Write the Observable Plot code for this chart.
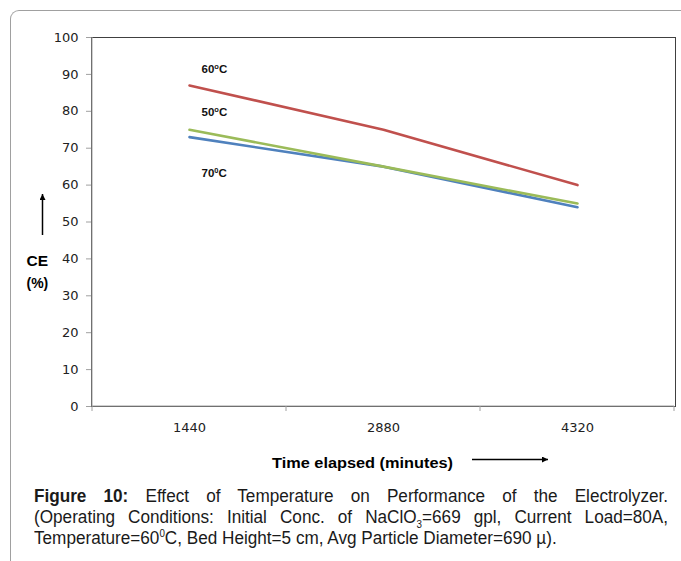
<!DOCTYPE html>
<html>
<head>
<meta charset="utf-8">
<script src="https://cdn.jsdelivr.net/npm/d3@7"></script>
<script src="https://cdn.jsdelivr.net/npm/@observablehq/plot@0.6"></script>
<style>
  html, body { margin: 0; padding: 0; background: #fff; width: 681px; height: 561px; overflow: hidden; position: relative; }
  #box { position: absolute; left: 10px; top: 10px; width: 720px; height: 560px; border-left: 1px solid #a0a0a0; border-top: 1px solid #a0a0a0; border-top-left-radius: 9px; }
  #chart { position: absolute; left: 0; top: 0; width: 681px; }
  #cap { position: absolute; left: 34px; top: 486px; width: 647px; transform: scaleX(0.98); transform-origin: 0 0; font-family: "Liberation Sans", Arial, sans-serif; font-size: 17.5px; line-height: 21px; color: #1a1a1a; }
  #cap .j { text-align: justify; text-align-last: justify; }
  #cap .l { text-align: left; white-space: nowrap; }
  #cap sub, #cap sup { font-size: 10px; line-height: 0; }
</style>
</head>
<body>
<div id="box"></div>
<div id="chart"></div>
<div id="cap">
  <div class="j"><b>Figure 10:</b> Effect of Temperature on Performance of the Electrolyzer.</div>
  <div class="j">(Operating Conditions: Initial Conc. of NaClO<sub>3</sub>=669 gpl, Current Load=80A,</div>
  <div class="l">Temperature=60<sup>0</sup>C, Bed Height=5 cm, Avg Particle Diameter=690 µ).</div>
</div>
<script>
// ---- data ----
const times = ["1440", "2880", "4320"];
const ce60 = [87, 75, 60];
const ce50 = [75, 65, 55];
const ce70 = [73, 65, 54];
const yTicks = [0, 10, 20, 30, 40, 50, 60, 70, 80, 90, 100];
const seriesBase = ["60", "50", "70"];
const seriesSup = ["o", "o", "0"];
const labelY = [91.3, 79.6, 63.3];

const rows = (vals) => times.map((t, i) => ({t, v: vals[i]}));
const labels = seriesBase.map((b, i) => ({t: times[0], v: labelY[i], s: b + seriesSup[i] + "C"}));

const W = 681, H = 480;
const plot = Plot.plot({
  width: W, height: H,
  marginLeft: 91, marginRight: 6, marginTop: 37, marginBottom: 74,
  style: {background: "transparent", fontFamily: "Liberation Sans, Arial, sans-serif", overflow: "visible"},
  x: {type: "point", domain: times, padding: 0.5, label: null, axis: null},
  y: {domain: [0, 100], label: null, axis: null},
  marks: [
    Plot.frame({stroke: "#404040", strokeWidth: 1}),
    Plot.axisY({ticks: yTicks, tickSize: 5, tickPadding: 8, stroke: "#a0a0a0", fill: "#222",
                fontSize: 13, fontFamily: "DejaVu Sans, sans-serif", label: null}),
    Plot.axisX({tickSize: 0, tickPadding: 16, fill: "#222", fontSize: 13,
                fontFamily: "DejaVu Sans, sans-serif", label: null}),
    Plot.line(rows(ce60), {x: "t", y: "v", stroke: "#C0504D", strokeWidth: 2.6}),
    Plot.line(rows(ce70), {x: "t", y: "v", stroke: "#4F81BD", strokeWidth: 2.6}),
    Plot.line(rows(ce50), {x: "t", y: "v", stroke: "#9BBB59", strokeWidth: 2.6}),
    Plot.text(labels, {x: "t", y: "v", text: "s", textAnchor: "start", dx: 12, className: "templabel",
                       fontWeight: "bold", fontSize: 11.5, fill: "#111"})
  ]
});
document.getElementById("chart").appendChild(plot);

// superscript degree marks in the series labels
d3.select(plot).selectAll("g.templabel text").each(function(_, i) {
  const t = d3.select(this);
  t.text(null);
  t.append("tspan").text(seriesBase[i]);
  t.append("tspan").attr("dy", -4).attr("font-size", 7.5).text(seriesSup[i]);
  t.append("tspan").attr("dy", 4).text("C");
});

// ---- decorations derived from the scales ----
const sx = plot.scale("x"), sy = plot.scale("y");
const svg = d3.select(plot);
const step = sx.apply(times[1]) - sx.apply(times[0]);
const x0 = sx.apply(times[0]) - step / 2;
const x1 = sx.apply(times[times.length - 1]) + step / 2;
const yb = sy.apply(0), yt = sy.apply(100);
const g = svg.append("g").attr("text-anchor", "start");
g.append("line").attr("x1", x0).attr("x2", x0).attr("y1", yt).attr("y2", yb).attr("stroke", "#a0a0a0");
g.append("line").attr("x1", x0).attr("x2", x1).attr("y1", yb).attr("y2", yb).attr("stroke", "#a0a0a0");
for (let i = 0; i <= times.length; i++) {
  const xx = x0 + i * step;
  g.append("line").attr("x1", xx).attr("x2", xx).attr("y1", yb).attr("y2", yb + 5).attr("stroke", "#a0a0a0");
}
const defs = svg.append("defs");
defs.append("marker").attr("id", "ah").attr("viewBox", "0 0 10 10").attr("refX", 10).attr("refY", 5)
  .attr("markerWidth", 8).attr("markerHeight", 6).attr("markerUnits", "userSpaceOnUse").attr("orient", "auto")
  .append("path").attr("d", "M0,0L10,5L0,10Z").attr("fill", "#000");
const F = "Liberation Sans, Arial, sans-serif";
g.append("text").attr("x", 26.5).attr("y", 265.5).text("CE")
  .attr("font-family", F).attr("font-weight", "bold").attr("font-size", 15.5).attr("fill", "#000");
g.append("text").attr("x", 26.5).attr("y", 288).text("(%)")
  .attr("font-family", F).attr("font-weight", "bold").attr("font-size", 14).attr("fill", "#000");
g.append("line").attr("x1", 42.5).attr("x2", 42.5).attr("y1", 235).attr("y2", 194)
  .attr("stroke", "#000").attr("stroke-width", 1.5).attr("marker-end", "url(#ah)");
g.append("text").attr("x", 272).attr("y", 467.5).text("Time elapsed (minutes)")
  .attr("textLength", 181).attr("lengthAdjust", "spacingAndGlyphs")
  .attr("font-family", F).attr("font-weight", "bold").attr("font-size", 14.5).attr("fill", "#000");
g.append("line").attr("x1", 472).attr("x2", 548).attr("y1", 459.5).attr("y2", 459.5)
  .attr("stroke", "#000").attr("stroke-width", 1.5).attr("marker-end", "url(#ah)");
</script>
</body>
</html>
